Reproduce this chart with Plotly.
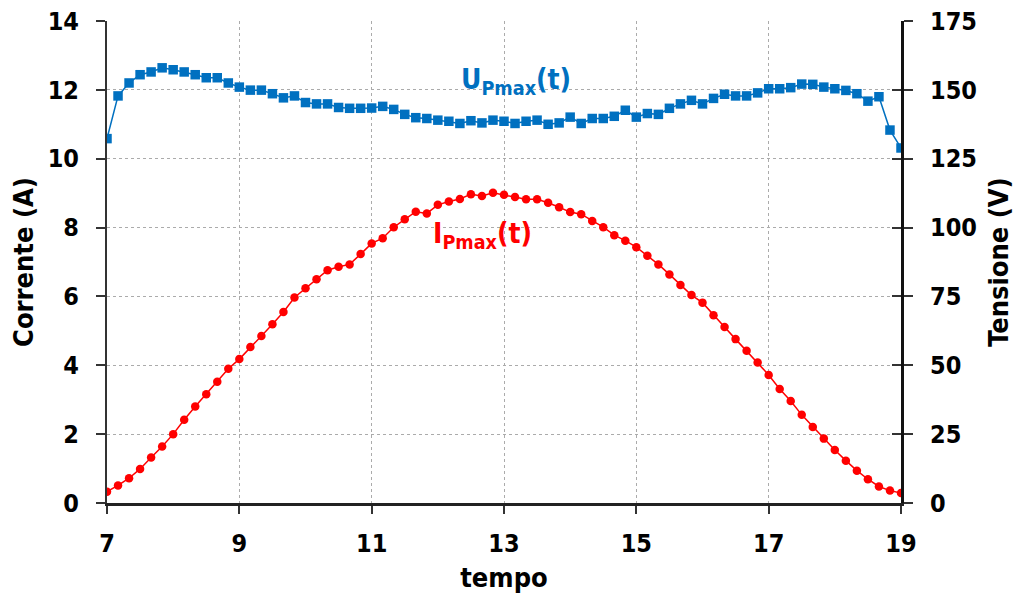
import plotly.graph_objects as go

# time axis: samples every 10 minutes from 7:00 to 19:00
tempo = [7 + i / 6 for i in range(73)]

# Current at maximum power point (A)
corrente_pmax = [
    0.33, 0.51, 0.72, 0.99, 1.32, 1.64, 2.00, 2.42, 2.80, 3.16, 3.52, 3.90,
    4.18, 4.53, 4.85, 5.19, 5.55, 5.97, 6.24, 6.50, 6.76, 6.86, 6.93, 7.23,
    7.54, 7.69, 8.01, 8.24, 8.46, 8.41, 8.66, 8.76, 8.83, 8.97, 8.92, 9.01,
    8.95, 8.89, 8.82, 8.82, 8.72, 8.59, 8.45, 8.39, 8.19, 8.01, 7.78, 7.62,
    7.43, 7.18, 6.93, 6.64, 6.33, 6.04, 5.82, 5.45, 5.11, 4.76, 4.42, 4.08,
    3.72, 3.31, 2.96, 2.56, 2.21, 1.87, 1.54, 1.23, 0.94, 0.69, 0.48, 0.36,
    0.29,
]

# Voltage at maximum power point (V)
tensione_pmax = [
    132.3, 147.8, 152.5, 155.5, 156.5, 158.0, 157.3, 156.5, 155.5, 154.4, 154.4, 152.5,
    151.0, 149.9, 149.9, 148.6, 147.1, 147.8, 145.4, 144.9, 144.9, 143.6, 143.3, 143.3,
    143.4, 144.0, 142.9, 141.1, 139.9, 139.6, 139.0, 138.6, 137.8, 138.8, 138.0, 139.0,
    138.6, 137.8, 138.6, 139.0, 137.5, 138.0, 140.1, 137.8, 139.6, 139.6, 140.4, 142.6,
    140.1, 141.4, 141.1, 143.3, 144.9, 146.2, 144.9, 146.9, 148.4, 147.8, 147.8, 148.9,
    150.4, 150.4, 150.8, 152.1, 152.0, 151.0, 150.4, 149.8, 148.6, 145.9, 147.5, 135.4,
    128.9,
]

x_ticks = [7, 9, 11, 13, 15, 17, 19]
y_left_ticks = [0, 2, 4, 6, 8, 10, 12, 14]
y_right_ticks = [0, 25, 50, 75, 100, 125, 150, 175]

BLUE = "#0070C0"
RED = "#FF0000"
FONT = "DejaVu Sans Condensed"
GRID = "#ABABAB"
GRIDDASH = "3px,3px"

fig = go.Figure()
fig.add_trace(go.Scatter(
    x=tempo, y=corrente_pmax, mode="lines+markers", name="I_Pmax",
    line=dict(color=RED, width=1.5),
    marker=dict(symbol="circle", size=8.5, color=RED),
    yaxis="y", showlegend=False,
))
fig.add_trace(go.Scatter(
    x=tempo, y=tensione_pmax, mode="lines+markers", name="U_Pmax",
    line=dict(color=BLUE, width=1.5),
    marker=dict(symbol="square", size=9.5, color=BLUE),
    yaxis="y2", showlegend=False,
))

tickfont = dict(family=FONT, size=25, color="black", weight="bold")
titlefont = dict(family=FONT, size=27, color="black", weight="bold")

fig.update_layout(
    width=1019, height=593,
    margin=dict(l=107, r=118, t=21, b=90, autoexpand=False),
    paper_bgcolor="white", plot_bgcolor="white",
    xaxis=dict(
        range=[7, 19], tickvals=x_ticks, ticktext=[str(v) for v in x_ticks],
        showgrid=True, gridcolor=GRID, griddash=GRIDDASH, gridwidth=1.4,
        showline=True, linecolor="#222222", linewidth=2.5,
        ticks="outside", ticklen=8, tickwidth=1.5, tickcolor="#333333",
        ticklabelstandoff=8, automargin=False,
        tickfont=tickfont, zeroline=False,
        title=dict(text="tempo", font=titlefont, standoff=12),
    ),
    yaxis=dict(
        range=[0, 14], tickvals=y_left_ticks,
        showgrid=True, gridcolor=GRID, griddash=GRIDDASH, gridwidth=1.4,
        showline=True, linecolor="#333333", linewidth=2,
        ticks="outside", ticklen=9, tickwidth=1.5, tickcolor="#333333",
        ticklabelstandoff=12, automargin=False,
        tickfont=tickfont, zeroline=False,
        title=dict(text="Corrente (A)", font=titlefont, standoff=6),
    ),
    yaxis2=dict(
        range=[0, 175], tickvals=y_right_ticks,
        overlaying="y", side="right", anchor="x",
        showgrid=False,
        showline=True, linecolor="#111111", linewidth=3,
        ticks="outside", ticklen=9, tickwidth=1.5, tickcolor="#333333",
        ticklabelstandoff=12, automargin=False,
        tickfont=tickfont, zeroline=False,
        title=dict(text="Tensione (V)", font=titlefont, standoff=14),
    ),
    yaxis3=dict(
        range=[0, 175], tickvals=y_right_ticks,
        overlaying="y", side="right", anchor="x",
        showgrid=False, showline=False, showticklabels=False,
        ticks="inside", ticklen=9, tickwidth=1.5, tickcolor="#333333",
        zeroline=False, automargin=False,
    ),
    annotations=[
        dict(x=13.18, y=12.23, xref="x", yref="y",
             text="U<sub>Pmax</sub>(t)", showarrow=False,
             font=dict(family=FONT, size=28, color=BLUE, weight="bold")),
        dict(x=12.67, y=7.76, xref="x", yref="y",
             text="I<sub>Pmax</sub>(t)", showarrow=False,
             font=dict(family=FONT, size=28, color=RED, weight="bold")),
    ],
)

# invisible trace to activate yaxis3 (crossing ticks on the right axis)
fig.add_trace(go.Scatter(x=[None], y=[None], yaxis="y3", showlegend=False,
                         hoverinfo="skip"))

fig.write_html(
    "out.html",
    config={"displayModeBar": False},
    post_script="document.body.style.margin='0';document.body.style.overflow='hidden';",
)
